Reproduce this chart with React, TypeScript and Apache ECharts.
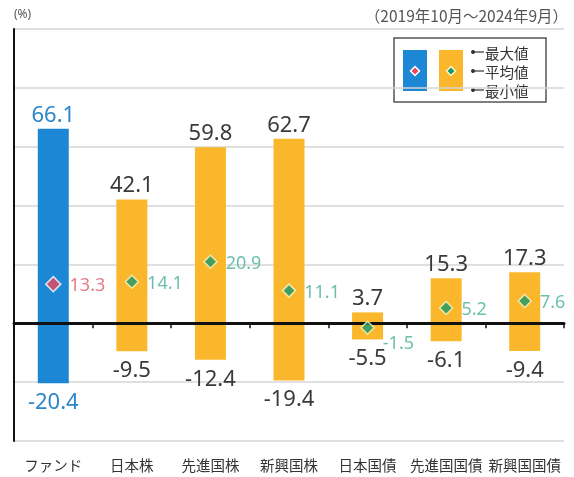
import React, { useEffect, useRef } from 'react';
import * as echarts from 'echarts';

const categories = ['ファンド', '日本株', '先進国株', '新興国株', '日本国債', '先進国国債', '新興国国債'];
const maxVals = [66.1, 42.1, 59.8, 62.7, 3.7, 15.3, 17.3];
const meanVals = [13.3, 14.1, 20.9, 11.1, -1.5, 5.2, 7.6];
const minVals = [-20.4, -9.5, -12.4, -19.4, -5.5, -6.1, -9.4];
const legendLabels = ['最大値', '平均値', '最小値'];
const periodText = '（2019年10月～2024年9月）';
const unitText = '(%)';

const BLUE = '#1c87d4';
const ORANGE = '#fbb72b';
const RED = '#e6485c';
const GREEN = '#16976b';
const NUM_DARK = '#3a3a3a';
const NUM_BLUE = '#2c86c9';
const MEAN_TEAL = '#46b096';
const MEAN_RED = '#e0566c';
const NUMFONT = '"Noto Sans", "Liberation Sans", sans-serif';
const JPFONT = '"Noto Sans CJK JP", "Noto Sans", sans-serif';

export default function App() {
  const ref = useRef<HTMLDivElement>(null);
  useEffect(() => {
    const chart = echarts.init(ref.current!, null, { renderer: 'svg' });
    const barColor = (i: number) => (i === 0 ? BLUE : ORANGE);
    const numColor = (i: number) => (i === 0 ? NUM_BLUE : NUM_DARK);

    const legendRows = legendLabels.flatMap((t, k) => {
      const y = 52 + k * 19;
      return [
        { type: 'circle', shape: { cx: 473, cy: y, r: 2 }, style: { fill: '#333' } },
        { type: 'line', shape: { x1: 473, y1: y, x2: 484, y2: y }, style: { stroke: '#333', lineWidth: 1.2 } },
        {
          type: 'text', x: 485, y,
          style: {
            text: t, fontSize: 14.5, lineHeight: 17, fill: '#333', fontFamily: JPFONT,
            verticalAlign: 'middle', align: 'left',
          },
        },
      ];
    });

    const diamond = (cx: number, cy: number, r: number) => [
      [cx, cy - r], [cx + r, cy], [cx, cy + r], [cx - r, cy],
    ];

    chart.setOption({
      animation: false,
      textStyle: { fontFamily: NUMFONT },
      grid: { left: 14, right: 10, top: 29, bottom: 36, containLabel: false },
      xAxis: [
        {
          type: 'category',
          data: categories,
          position: 'bottom',
          axisLine: { show: false, onZero: false },
          axisTick: { show: false },
          axisLabel: { fontSize: 14.5, color: '#333', margin: 16, fontFamily: JPFONT, interval: 0 },
        },
        {
          type: 'category',
          data: categories,
          position: 'bottom',
          z: 5,
          axisLine: { show: true, onZero: true, lineStyle: { color: '#111', width: 3 } },
          axisTick: { show: true, length: 5, lineStyle: { color: '#111', width: 1.5 } },
          axisLabel: { show: false },
        },
      ],
      yAxis: {
        type: 'value',
        min: -40,
        max: 100,
        interval: 20,
        axisLine: { show: true, lineStyle: { color: '#111', width: 2 } },
        axisTick: { show: false },
        axisLabel: { show: false },
        splitLine: { lineStyle: { color: '#d6d6d6', width: 1.5 } },
      },
      series: [
        {
          type: 'bar',
          name: '最大値',
          stack: 'range',
          barWidth: 31,
          data: maxVals.map((v, i) => ({
            value: v,
            itemStyle: { color: barColor(i) },
            label: { color: numColor(i) },
          })),
          label: { show: true, position: 'top', distance: 5, fontSize: 22, fontFamily: NUMFONT },
        },
        {
          type: 'bar',
          name: '最小値',
          stack: 'range',
          barWidth: 31,
          data: minVals.map((v, i) => ({
            value: v,
            itemStyle: { color: barColor(i) },
            label: { color: numColor(i) },
          })),
          label: { show: true, position: 'bottom', distance: 6, fontSize: 22, fontFamily: NUMFONT },
        },
        {
          type: 'scatter',
          name: '平均値',
          z: 10,
          symbol: 'diamond',
          data: meanVals.map((v, i) => ({
            value: v,
            symbolSize: i === 0 ? 15 : 13,
            itemStyle: i === 0
              ? { color: RED, borderColor: '#ffffff', borderWidth: 1.5 }
              : { color: GREEN, borderColor: '#fff6c4', borderWidth: 1.5 },
            label: i === 4
              ? { color: MEAN_TEAL, offset: [0, 14] }
              : { color: i === 0 ? MEAN_RED : MEAN_TEAL },
          })),
          label: { show: true, position: 'right', distance: 8, fontSize: 18, fontFamily: NUMFONT },
        },
      ],
      graphic: [
        {
          type: 'text', left: 14, top: 7, z: 20,
          style: { text: unitText, fontSize: 12, fill: '#555', fontFamily: NUMFONT },
        },
        {
          type: 'text', right: 6, top: 7, z: 20,
          style: { text: periodText, fontSize: 15.5, fill: '#555', fontFamily: JPFONT },
        },
        {
          type: 'group', z: 20,
          children: [
            { type: 'rect', shape: { x: 394, y: 38, width: 152, height: 64 }, style: { fill: '#fff', stroke: '#555', lineWidth: 1.5 } },
            { type: 'rect', shape: { x: 403, y: 50, width: 24, height: 41 }, style: { fill: BLUE } },
            { type: 'rect', shape: { x: 439, y: 50, width: 24, height: 41 }, style: { fill: ORANGE } },
            { type: 'polygon', shape: { points: diamond(415, 71, 4.5) }, style: { fill: RED, stroke: '#fff', lineWidth: 1.5 } },
            { type: 'polygon', shape: { points: diamond(451, 71, 4.5) }, style: { fill: GREEN, stroke: '#fff6c4', lineWidth: 1.5 } },
            ...legendRows,
          ],
        },
      ],
    });
    return () => chart.dispose();
  }, []);
  return <div ref={ref} style={{ position: 'fixed', left: 0, top: 0, width: 574, height: 477 }} />;
}
